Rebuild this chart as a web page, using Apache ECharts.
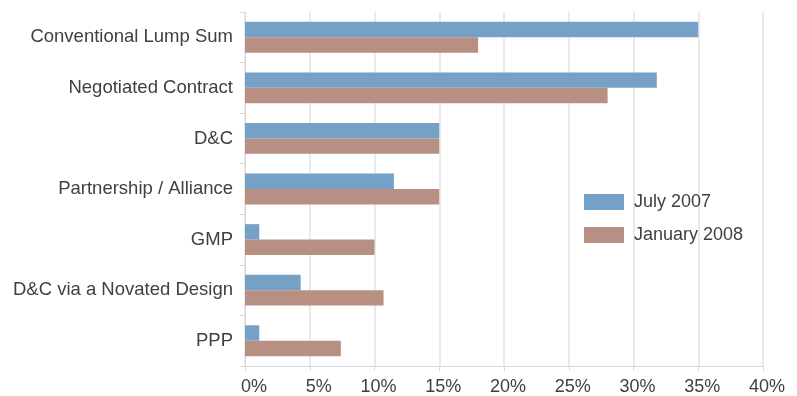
<!DOCTYPE html>
<html>
<head>
<meta charset="utf-8">
<script src="https://cdn.jsdelivr.net/npm/echarts@6/dist/echarts.min.js"></script>
<style>
  html, body { margin: 0; padding: 0; background: #ffffff; }
  #chart { width: 797px; height: 396px; }
</style>
</head>
<body>
<div id="chart"></div>
<script>
// Procurement methods, share of respondents (%)
const categories = [
  'Conventional Lump Sum',
  'Negotiated Contract',
  'D&C',
  'Partnership / Alliance',
  'GMP',
  'D&C via a Novated Design',
  'PPP'
];
const july2007 = [35, 31.8, 15, 11.5, 1.1, 4.3, 1.1];
const january2008 = [18, 28, 15, 15, 10, 10.7, 7.4];
const seriesNames = ['July 2007', 'January 2008'];

const font = 'Liberation Sans, Arial, sans-serif';
const textColor = '#404040';
const gridColor = '#e3e3e3';

const chart = echarts.init(document.getElementById('chart'), null, { renderer: 'canvas' });
chart.setOption({
  animation: false,
  textStyle: { fontFamily: font },
  grid: { left: 245, right: 34, top: 12, bottom: 28, containLabel: false },
  legend: {
    orient: 'vertical',
    left: 584,
    top: 193,
    padding: 0,
    itemWidth: 40,
    itemHeight: 16,
    itemGap: 15,
    icon: 'rect',
    textStyle: { fontFamily: font, fontSize: 18, color: textColor, padding: [0, 0, 0, 5] },
    data: seriesNames
  },
  xAxis: {
    type: 'value',
    min: 0,
    max: 40,
    interval: 5,
    axisLine: { show: true, lineStyle: { color: '#d9d9d9', width: 1 } },
    axisTick: { show: true, length: 5, lineStyle: { color: '#d9d9d9' } },
    splitLine: { show: true, lineStyle: { color: gridColor, width: 1.5 } },
    axisLabel: {
      // tick labels sit right-aligned in a fixed-width box centred on the tick
      formatter: function (v) { return '{t|' + v + '%}'; },
      align: 'center',
      margin: 12,
      rich: {
        t: { width: 44, align: 'right', fontFamily: font, fontSize: 18, color: textColor }
      }
    }
  },
  yAxis: {
    type: 'category',
    inverse: true,
    data: categories,
    axisLine: { show: true, lineStyle: { color: '#d9d9d9', width: 1 } },
    axisTick: { show: true, length: 5, lineStyle: { color: '#d9d9d9' } },
    axisLabel: {
      fontFamily: font,
      fontSize: 18.5,
      color: textColor,
      margin: 12,
      padding: [0, 0, 4, 0]
    }
  },
  series: [
    {
      name: seriesNames[0],
      type: 'bar',
      data: july2007,
      barGap: '0%',
      barCategoryGap: '39%',
      itemStyle: { color: '#75a1c7' }
    },
    {
      name: seriesNames[1],
      type: 'bar',
      data: january2008,
      barGap: '0%',
      barCategoryGap: '39%',
      itemStyle: { color: '#b89083' }
    }
  ]
});
</script>
</body>
</html>
